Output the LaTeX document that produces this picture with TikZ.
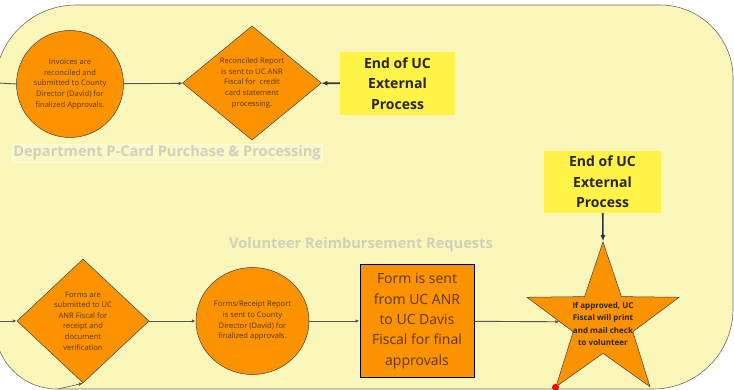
\documentclass[tikz,border=0pt]{standalone}
\usepackage{fontspec}
\setmainfont{Open Sans}
\usetikzlibrary{shapes.geometric,arrows.meta}

\definecolor{lanebg}{RGB}{250,246,185}
\definecolor{laneline}{RGB}{110,110,100}
\definecolor{laneword}{RGB}{208,208,188}
\definecolor{procfill}{RGB}{251,146,0}
\definecolor{proctext}{RGB}{90,55,20}
\definecolor{endfill}{RGB}{255,243,72}
\definecolor{flowgray}{RGB}{85,85,85}

\begin{document}
\begin{tikzpicture}[x=1pt,y=-1pt]
\tikzstyle{every node}+=[inner sep=0pt]
\tikzstyle{proc}=[draw=black!75, line width=0.5pt, fill=procfill, text=proctext, align=center,
  font=\fontsize{7.6}{10.6}\selectfont]
\tikzstyle{endbox}=[fill=endfill, text=black!85, align=center, font=\bfseries\fontsize{14}{20.5}\selectfont]
\tikzstyle{lanename}=[text=laneword, font=\bfseries\fontsize{14.6}{17}\selectfont]
\tikzstyle{flow}=[draw=flowgray, line width=0.9pt, -{Latex[length=4pt,width=3.5pt]}]
\tikzstyle{endflow}=[draw=black!80, line width=1.6pt, -{Latex[length=6pt,width=5pt]}]
\useasboundingbox (0,0) rectangle (734,390);

% swimlane
\draw [draw=laneline, fill=lanebg, line width=0.6pt] (-5,200) [rounded corners=81pt] -- (-5,5)
  [rounded corners=73pt] -- (733,5) [rounded corners=80pt] -- (733,389)
  [rounded corners=62pt] -- (-5,389) [sharp corners] -- cycle;

\node [lanename, draw=white!60!lanebg, fill=white!20!lanebg, inner sep=1.5pt] (lane1) at (167,153)
  {Department P-Card Purchase \& Processing};
\node [lanename] (lane2) at (361,245) {Volunteer Reimbursement Requests};

% p-card row
\node [proc, circle, minimum size=107pt] (inv) at (70,84)
  {Invoices are\\reconciled and\\submitted to County\\Director (David) for\\finalized Approvals.};
\node [proc, diamond, minimum width=139pt, minimum height=112pt] (rec) at (252,83)
  {Reconciled Report\\is sent to UC ANR\\Fiscal for\ \ credit\\card statement\\processing.};
\node [endbox, minimum width=115pt, minimum height=63pt] (end1) at (397.5,83.5)
  {End of UC\\External\\Process};
\coordinate (in1) at (-2,83);
\draw [draw=flowgray, line width=0.9pt] (in1) -- (inv.west);
\draw [flow] (inv) -- (rec);
\draw [endflow] (end1) -- (rec);

% volunteer row
\node [proc, diamond, minimum width=132pt, minimum height=124pt] (frm) at (83,321)
  {Forms are\\submitted to UC\\ANR Fiscal for\\receipt and\\document\\verification};
\node [proc, ellipse, minimum width=113pt, minimum height=107pt] (rpt) at (252.5,321)
  {Forms/Receipt Report\\is sent to County\\Director (David) for\\finalized approvals.};
\node [proc, draw=black, line width=0.9pt, minimum width=114pt, minimum height=113pt,
  font=\fontsize{14}{20.3}\selectfont] (snt) at (417,321)
  {Form is sent\\from UC ANR\\to UC Davis\\Fiscal for final\\approvals};
\node [proc, star, star points=5, star point ratio=2.55, minimum size=160pt] (apv) at (603,322) {};
\node [text=black!85, align=center, font=\bfseries\fontsize{8}{12.3}\selectfont] (apvtext) at (603,324)
  {If approved, UC\\Fiscal will print\\and mail check\\to volunteer};
\node [endbox, minimum width=117pt, minimum height=62pt] (end2) at (602.5,182)
  {End of UC\\External\\Process};
\coordinate (in2) at (-2,321);
\coordinate (in3) at (58,389);
\draw [flow] (in2) -- (frm.west);
\draw [flow, line width=0.6pt] (in3) -- (frm.south);
\draw [flow] (frm) -- (rpt);
\draw [flow] (rpt) -- (snt);
\draw [flow] (snt) -- (apv);
\draw [endflow] (end2) -- (apv.north);
\fill [red] (apv.outer point 3) circle (3.5pt);
\end{tikzpicture}
\end{document}
